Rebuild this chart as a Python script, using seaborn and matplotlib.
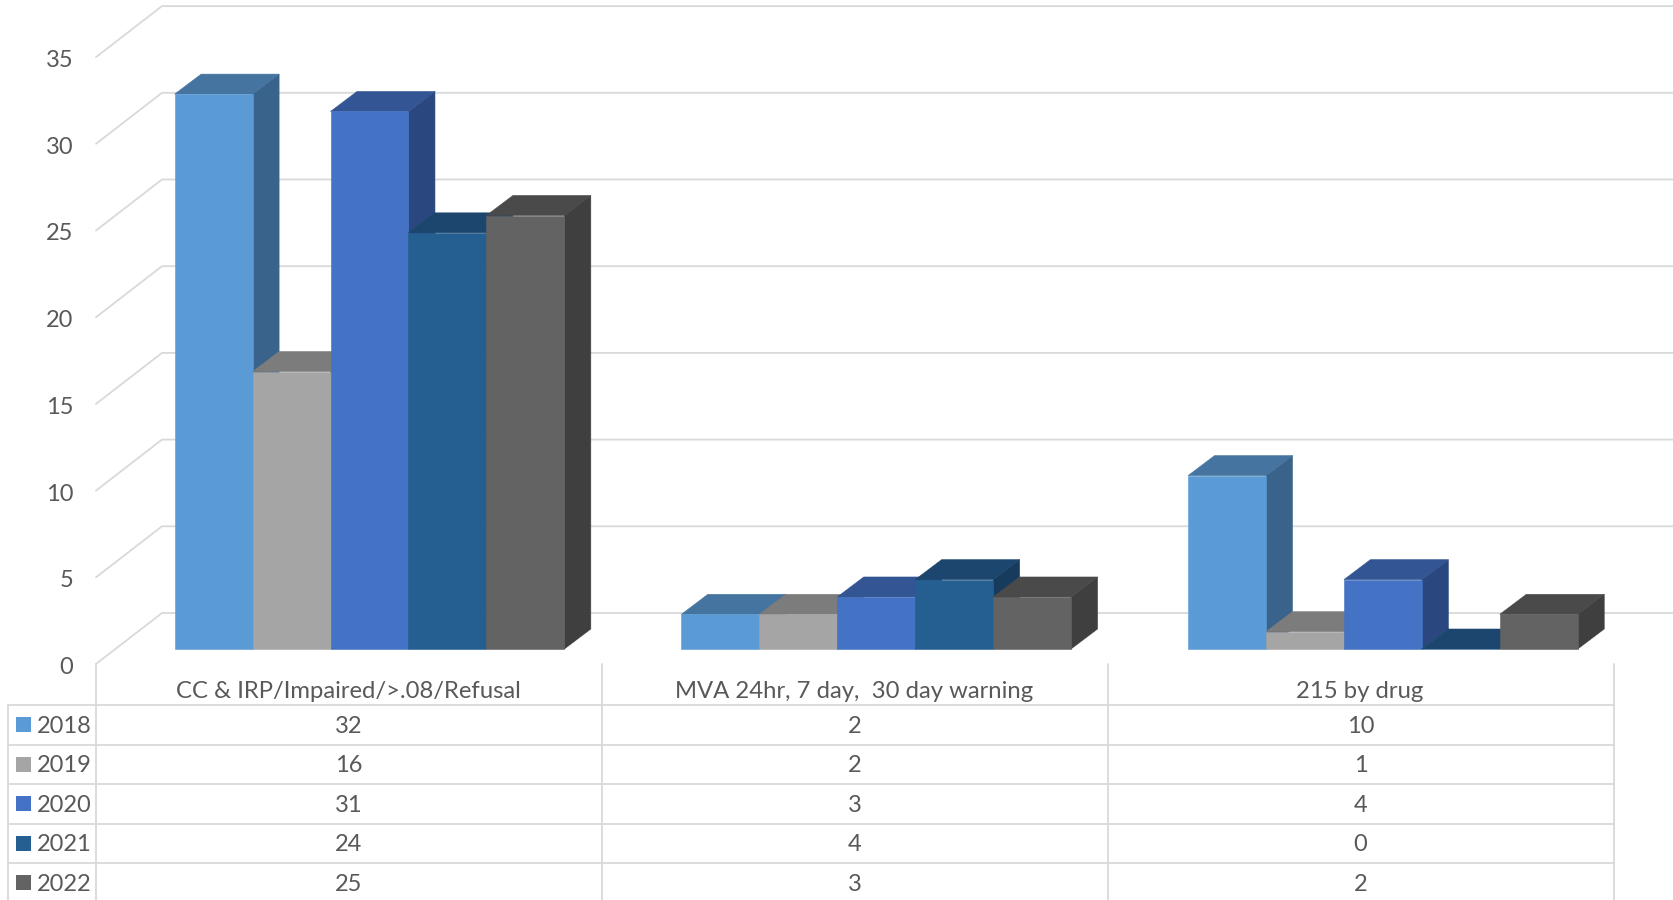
"""
Recreate the pseudo-3D clustered column chart with its data table
"""

import matplotlib
matplotlib.use('Agg')
import matplotlib.pyplot as plt
import matplotlib.patches as mpatches
import matplotlib.transforms as mtransforms
import pandas as pd
import seaborn as sns

categories = ['CC & IRP/Impaired/>.08/Refusal', 'MVA 24hr, 7 day,  30 day warning', '215 by drug']
years = ['2018', '2019', '2020', '2021', '2022']
values_2018 = [32, 2, 10]
values_2019 = [16, 2, 1]
values_2020 = [31, 3, 4]
values_2021 = [24, 4, 0]
values_2022 = [25, 3, 2]
y_ticks = [0, 5, 10, 15, 20, 25, 30, 35]

front_colors = ['#5B9BD5', '#A5A5A5', '#4472C4', '#255E91', '#636363']
top_colors = ['#44749F', '#7C7C7C', '#335593', '#1C466D', '#4A4A4A']
side_colors = ['#39638A', '#696969', '#2A4780', '#173B5C', '#3F3F3F']
grid_color = '#D9D9D9'
text_color = '#595959'

series = [values_2018, values_2019, values_2020, values_2021, values_2022]
df = pd.DataFrame(series, columns=categories)
df['year'] = years
df = df.melt(id_vars='year', var_name='category', value_name='count')

# layout, in reference pixels
W, H = 1673, 900
PX_PER_UNIT = 17.34
PX_PER_CAT = 506.7
BAR_BASE_Y = 649
FIRST_CAT_X = 369.5
WALL_LEFT = 96
WALL_BOTTOM = 664
WALL_DX, WALL_DY = 66, 51
BAR_DX, BAR_DY = 26.5, 20
COL_EDGES = [95.6, 602, 1107.5, 1613.5]
TABLE_LEFT = 8
ROW_LINES = [705, 744.5, 784, 823.5, 863]
ROW_HEIGHT = 39.5
TEXT_SHIFT = 1.5

sns.set_theme(style='white')
plt.rcParams['font.family'] = ['Lato', 'DejaVu Sans']

fig = plt.figure(figsize=(W / 100, H / 100), dpi=100)
ax = fig.add_axes([WALL_LEFT / W, (H - WALL_BOTTOM) / H, (W - WALL_LEFT) / W, WALL_BOTTOM / H])
ax.patch.set_alpha(0)

sns.barplot(data=df, x='category', y='count', hue='year', order=categories, hue_order=years,
            palette=front_colors, saturation=1, width=0.769, gap=0, errorbar=None,
            linewidth=0, legend=False, ax=ax)

x_min = (WALL_LEFT - FIRST_CAT_X) / PX_PER_CAT
x_max = (W - FIRST_CAT_X) / PX_PER_CAT
floor_front = (WALL_BOTTOM - BAR_BASE_Y) / PX_PER_UNIT
ax.set_xlim(x_min, x_max)
ax.set_ylim(-floor_front, BAR_BASE_Y / PX_PER_UNIT)

# back wall and left wall grid
floor_back = (BAR_BASE_Y - (WALL_BOTTOM - WALL_DY)) / PX_PER_UNIT
x_back = x_min + WALL_DX / PX_PER_CAT
for v in y_ticks:
    ax.plot([x_min, x_back, x_max], [v - floor_front, v + floor_back, v + floor_back],
            color=grid_color, lw=1.3, zorder=0, clip_on=False, solid_joinstyle='miter')

# side and top faces, built from the bars seaborn drew
dx = BAR_DX / PX_PER_CAT
dy = BAR_DY / PX_PER_UNIT
for i, container in enumerate(ax.containers):
    for bar in container:
        x0, x1 = bar.get_x(), bar.get_x() + bar.get_width()
        top = bar.get_height()
        bar.set_zorder(4 + 2 * i)
        # same colour edge hides the hairline seams between faces
        bar.set_edgecolor(front_colors[i])
        bar.set_linewidth(0.4)
        ax.add_patch(mpatches.Polygon(
            [(x1, 0), (x1 + dx, dy), (x1 + dx, top + dy), (x1, top)],
            facecolor=side_colors[i], edgecolor=side_colors[i], lw=0.4, zorder=3 + 2 * i))
        ax.add_patch(mpatches.Polygon(
            [(x0, top), (x0 + dx, top + dy), (x1 + dx, top + dy), (x1, top)],
            facecolor=top_colors[i], edgecolor=top_colors[i], lw=0.4, zorder=3 + 2 * i))

ax.set_xticks([])
ax.set_yticks([v - floor_front for v in y_ticks], labels=[str(v) for v in y_ticks])
ax.tick_params(axis='y', length=0, pad=16.5, labelsize=17, labelcolor=text_color)
shift_down = mtransforms.ScaledTranslation(0, -TEXT_SHIFT / 100, fig.dpi_scale_trans)
for label in ax.get_yticklabels():
    label.set_transform(label.get_transform() + shift_down)
ax.set_xlabel('')
ax.set_ylabel('')
sns.despine(ax=ax, left=True, bottom=True)

# data table below the plot, placed in pixels from the top left
px = mtransforms.Affine2D().scale(1, -1).translate(0, H)
for x in COL_EDGES:
    fig.add_artist(plt.Line2D([x, x], [WALL_BOTTOM, H], transform=px, color=grid_color, lw=1.3))
fig.add_artist(plt.Line2D([TABLE_LEFT, TABLE_LEFT], [ROW_LINES[0], H], transform=px, color=grid_color, lw=1.3))
for y in ROW_LINES:
    fig.add_artist(plt.Line2D([TABLE_LEFT, COL_EDGES[-1]], [y, y], transform=px, color=grid_color, lw=1.3))

for c, cat in enumerate(categories):
    xc = (COL_EDGES[c] + COL_EDGES[c + 1]) / 2
    fig.text(xc - 0.5, ROW_LINES[0] - 15 + 2, cat, transform=px, ha='center', va='center', fontsize=17.2, color=text_color)
    for r, vals in enumerate(series):
        fig.text(xc, ROW_LINES[r] + ROW_HEIGHT / 2 + TEXT_SHIFT, str(vals[c]), transform=px, ha='center', va='center',
                 fontsize=17, color=text_color)

for r, year in enumerate(years):
    yc = ROW_LINES[r] + ROW_HEIGHT / 2
    fig.add_artist(mpatches.Rectangle((16, yc - 7.5), 15, 15, transform=px, facecolor=front_colors[r], edgecolor='none'))
    fig.text(36.5, yc + TEXT_SHIFT, year, transform=px, ha='left', va='center', fontsize=17, color=text_color)

plt.savefig('out.png', dpi=100)
plt.close()
